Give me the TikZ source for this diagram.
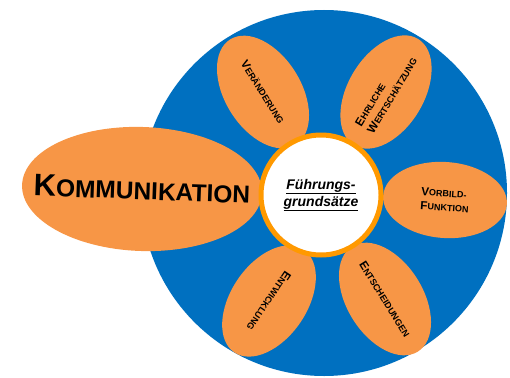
\documentclass[tikz,border=0pt]{standalone}
\usepackage{fontspec}
\setmainfont{Liberation Sans}
\usetikzlibrary{shapes.geometric}

\definecolor{kreisblau}{HTML}{0070C0}
\definecolor{blattorange}{HTML}{F79646}
\definecolor{ringorange}{HTML}{FF9900}

% fake small caps: big first letter, small rest
\newcommand\Kap[2]{{\fontsize{11.7}{14}\selectfont #1}#2}
\newcommand\KapGross[2]{{\fontsize{31}{30}\selectfont #1}#2}

\begin{document}
\begin{tikzpicture}[x=1pt,y=-1pt,
  blatt/.style={ellipse, fill=blattorange, minimum width=124pt, minimum height=76pt,
    inner sep=0pt, inner xsep=-20pt, font=\fontsize{9}{14}\selectfont\bfseries},
  ]

  \useasboundingbox (0,0) rectangle (510,377);

  % blue disc
  \node[circle, fill=kreisblau, minimum size=366pt, inner sep=0pt] (kreis) at (324,193) {};

  % petals
  \node[blatt, rotate=-58] (veraenderung) at (263,92) {\Kap{V}{ERÄNDERUNG}};
  \node[blatt, rotate=59, align=left] (wertschaetzung) at (386,92)
    {\Kap{E}{HRLICHE}\\\Kap{W}{ERTSCHÄTZUNG}};
  \node[blatt, rotate=-4, align=left] (vorbild) at (445,200)
    {\Kap{V}{ORBILD-}\\\Kap{F}{UNKTION}};
  \node[blatt, rotate=236] (entwicklung) at (269,301) {\Kap{E}{NTWICKLUNG}};
  \node[blatt, rotate=-58] (entscheidungen) at (385,299) {\Kap{E}{NTSCHEIDUNGEN}};

  % big one on the left
  \node[blatt, minimum width=240pt, minimum height=124pt, inner xsep=-60pt, rotate=-2,
    font=\fontsize{24.5}{28}\selectfont\bfseries] (kommunikation) at (142,189)
    {\KapGross{K}{OMMUNIKATION}};

  % centre
  \node[circle, fill=white, draw=ringorange, line width=5pt, minimum size=120pt,
    inner sep=0pt, align=center, font=\fontsize{14}{17}\selectfont\bfseries\itshape]
    (fuehrung) at (321,195) {\underline{Führungs-}\\\underline{grundsätze}};

\end{tikzpicture}
\end{document}
